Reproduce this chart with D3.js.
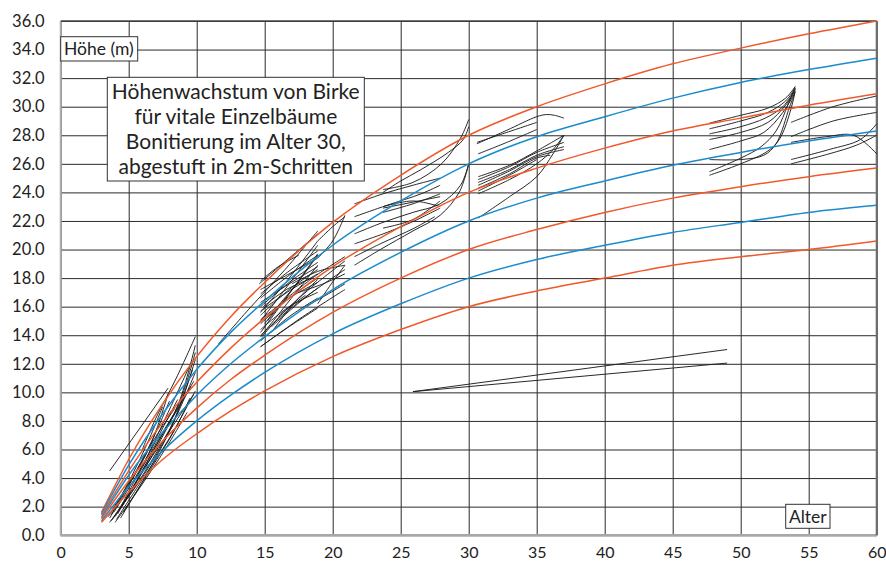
<!DOCTYPE html>
<html>
<head>
<meta charset="utf-8">
<script src="https://cdn.jsdelivr.net/npm/d3@7/dist/d3.min.js"></script>
<style>
  body { margin: 0; background: #fff; }
  svg { display: block; }
  text { font-family: Lato, "Noto Sans", sans-serif; fill: #222; }
</style>
</head>
<body>
<svg id="chart" width="886" height="562"></svg>
<script>
// axis ticks
const ageTicks = [0, 5, 10, 15, 20, 25, 30, 35, 40, 45, 50, 55, 60];
const heightTicks = [0, 2, 4, 6, 8, 10, 12, 14, 16, 18, 20, 22, 24, 26, 28, 30, 32, 34, 36];

// site index curves (height at age 30 = 28 ... 16 m)
const curveAges = [3, 5, 7.5, 10, 12.5, 15, 20, 25, 30, 35, 40, 45, 50, 55, 60];
const siteIndex = [28, 26, 24, 22, 20, 18, 16];
const siteHeights = [
  [1.6, 5.3, 9.2, 12.5, 15.3, 17.7, 21.9, 25.2, 28.0, 30.0, 31.6, 33.0, 34.1, 35.1, 36.0],
  [1.5, 4.9, 8.5, 11.6, 14.2, 16.4, 20.3, 23.4, 26.0, 27.9, 29.3, 30.6, 31.7, 32.6, 33.4],
  [1.4, 4.5, 7.9, 10.7, 13.1, 15.2, 18.8, 21.6, 24.0, 25.7, 27.1, 28.3, 29.2, 30.1, 30.9],
  [1.25, 4.2, 7.2, 9.8, 12.0, 13.9, 17.2, 19.8, 22.0, 23.6, 24.8, 25.9, 26.8, 27.6, 28.3],
  [1.15, 3.8, 6.6, 8.9, 10.9, 12.6, 15.6, 18.0, 20.0, 21.4, 22.6, 23.6, 24.4, 25.1, 25.7],
  [1.0, 3.4, 5.9, 8.0, 9.8, 11.4, 14.1, 16.2, 18.0, 19.3, 20.3, 21.2, 21.9, 22.6, 23.1],
  [0.9, 3.0, 5.3, 7.1, 8.7, 10.1, 12.5, 14.4, 16.0, 17.1, 18.0, 18.9, 19.5, 20.0, 20.6]
];

// measured single trees, [age, height]
const youngTrees = [
  [[3.6, 0.9], [5, 2.7], [6.5, 4.8], [8, 7.3], [9.9, 11.4]],
  [[3.8, 1.1], [5.2, 3.0], [6.8, 5.4], [8.4, 8.2], [9.9, 12.3]],
  [[3.7, 1.0], [5.5, 3.6], [7.2, 6.4], [8.7, 9.3], [9.9, 13.3]],
  [[4.0, 1.3], [5.6, 3.8], [7.2, 6.6], [8.6, 8.9], [9.8, 10.8]],
  [[3.6, 1.2], [5.2, 3.8], [6.6, 6.3], [7.9, 9.9]],
  [[4.2, 1.5], [5.8, 4.2], [7.4, 6.9], [9.6, 10.4]],
  [[3.6, 4.5], [7.9, 10.3]],
  [[4.5, 2.0], [6.3, 4.9], [8.0, 7.3], [9.8, 9.9]],
  [[3.7, 1.4], [5.2, 4.1], [6.4, 6.5], [7.5, 9.0]],
  [[4.1, 1.1], [6.0, 3.9], [8.0, 6.8], [9.9, 10.1]],
  [[3.9, 1.6], [5.4, 3.9], [7.0, 6.6], [8.6, 9.5]],
  [[4.3, 1.8], [6.2, 5.2], [7.9, 8.6], [9.6, 12.1]],
  [[3.5, 1.3], [5.0, 3.5], [6.8, 6.6], [8.4, 8.9]],
  [[4.4, 1.2], [6.4, 4.4], [8.2, 7.7], [9.7, 11.6]],
  [[6.0, 6.0], [7.0, 8.2], [8.5, 11.0], [9.9, 13.9]],
  [[4.0, 0.9], [5.8, 3.3], [7.8, 6.2], [9.3, 8.6]],
  [[5.5, 3.9], [7.3, 6.9], [8.7, 9.2], [9.9, 12.8]],
  [[4.6, 1.6], [6.6, 4.6], [8.4, 7.4], [9.5, 9.6]],
  [[3.8, 1.8], [5.6, 4.6], [7.0, 7.2], [8.0, 9.4]]
];

const poleTrees = [
  [[11.6, 13.4], [14, 16.0], [16.5, 18.6], [18.9, 21.3]],
  [[14.6, 17.6], [16.8, 19.4], [18.9, 21.1]],
  [[14.7, 13.2], [16.8, 14.6], [18.9, 15.9]],
  [[14.7, 13.6], [16.8, 15.3], [18.9, 16.6]],
  [[14.7, 14.0], [16.8, 15.8], [18.9, 17.3]],
  [[14.7, 14.4], [16.8, 16.0], [18.9, 17.0]],
  [[14.7, 14.8], [16.8, 16.6], [18.9, 18.0]],
  [[14.7, 15.1], [16.8, 16.6], [18.9, 17.7]],
  [[14.7, 15.4], [16.8, 17.2], [18.9, 18.6]],
  [[14.7, 15.7], [16.8, 17.1], [18.9, 18.3]],
  [[14.7, 16.0], [16.8, 17.7], [18.9, 19.1]],
  [[14.7, 16.3], [16.8, 17.6], [18.9, 18.8]],
  [[14.7, 16.6], [16.8, 18.2], [18.9, 19.6]],
  [[14.7, 16.9], [16.8, 18.5], [18.9, 19.9]],
  [[14.7, 17.2], [16.8, 18.3], [18.9, 19.4]],
  [[14.7, 14.2], [16.8, 16.9], [18.9, 19.7]],
  [[14.7, 15.0], [16.8, 17.6], [18.9, 20.3]],
  [[14.7, 13.9], [16.8, 16.4], [18.9, 18.9]],
  [[14.7, 15.6], [16.8, 18.0], [18.9, 20.6]],
  [[15.2, 15.0], [17.2, 17.4], [18.9, 19.6]],
  [[15.5, 14.2], [17.2, 16.3], [18.9, 17.9]],
  [[14.9, 16.0], [16.6, 17.2], [18.5, 18.0]],
  [[14.8, 13.9], [16.4, 15.6], [18.0, 16.8]],
  [[15.0, 14.8], [16.2, 16.3], [17.5, 17.7]],
  [[14.7, 13.2], [17.8, 15.3], [20.9, 17.2]],
  [[15.5, 14.6], [18.2, 16.8], [20.9, 18.6]],
  [[16.0, 15.3], [18.5, 17.4], [20.9, 19.2]],
  [[16.5, 16.5], [18.8, 18.2], [20.9, 19.5]],
  [[17.0, 17.6], [19.0, 18.5], [20.9, 18.9]],
  [[17.5, 17.0], [19.3, 17.6], [20.9, 18.3]],
  [[18.0, 16.0], [19.5, 16.8], [20.9, 17.6]],
  [[18.9, 19.4], [20.0, 20.6], [20.9, 22.4]],
  [[18.9, 20.6], [20.0, 21.6], [20.9, 22.3]],
  [[18.9, 16.2], [19.9, 17.6], [20.9, 18.9]],
  [[14.7, 17.8], [16.0, 18.8], [17.5, 19.6]]
];

const middleTrees = [
  [[21.6, 23.2], [23.7, 23.9], [25.9, 24.5], [27.9, 25.0]],
  [[23.7, 24.2], [25.9, 24.7], [28, 26.0], [29.4, 27.8], [30, 29.1]],
  [[23.7, 24.0], [25, 24.8], [26.5, 25.6], [28.5, 26.8], [29.6, 27.7], [30, 28.6]],
  [[23.7, 23.0], [25.9, 23.4], [27.9, 23.0]],
  [[23.7, 22.9], [27.9, 23.7]],
  [[23.7, 22.6], [25.9, 23.2], [27.9, 23.9]],
  [[23.7, 21.5], [25.9, 22.1], [27.9, 23.4]],
  [[21.6, 21.1], [23.7, 21.9], [25.9, 22.6], [27.9, 23.2], [29.4, 24.5], [30, 26.0]],
  [[21.6, 20.4], [24, 21.2], [26, 22.0], [27.9, 22.9]],
  [[21.6, 18.9], [23.5, 20.0], [25.9, 21.3], [27.9, 22.4], [29.3, 24.0], [30, 26.0]],
  [[21.6, 22.3], [24, 23.1], [26.5, 23.9], [27.9, 24.5]],
  [[21.6, 19.5], [23.5, 20.4], [26, 21.5], [27.5, 22.3]],
  [[30.6, 27.4], [32.8, 28.35], [35, 29.3], [35.7, 29.45], [36.3, 29.4], [37, 29.2]],
  [[30.6, 27.5], [32.8, 28.2], [35, 28.9]],
  [[30.7, 26.7], [32.8, 27.5], [35, 28.4]],
  [[30.7, 25.1], [33, 25.9], [35, 26.9], [37, 28.0]],
  [[30.7, 24.9], [33, 25.8], [35, 26.8], [37, 27.5]],
  [[30.7, 24.7], [33, 25.6], [35, 26.6], [37, 27.2]],
  [[30.7, 24.5], [33, 25.5], [35, 26.5], [37, 27.0]],
  [[30.7, 24.3], [33, 25.3], [35, 26.4], [36, 26.6]],
  [[30.7, 24.1], [33, 25.2], [35, 26.3]],
  [[30.7, 23.9], [33, 24.9], [35, 26.0], [36.2, 27.0], [37, 28.0]],
  [[30.7, 22.2], [33, 23.7], [35, 25.1], [36.2, 26.7], [37, 28.0]]
];

const oldTrees = [
  [[47.7, 28.85], [50, 29.4], [52, 29.9], [53.3, 30.6], [54, 31.4]],
  [[47.7, 28.45], [50, 29.0], [52, 29.6], [53.3, 30.4], [54, 31.3]],
  [[47.7, 28.1], [50, 28.6], [51.8, 29.2], [53.1, 30.0], [54, 31.2]],
  [[47.7, 27.7], [50, 28.2], [52, 28.9], [53.3, 30.1], [54, 31.1]],
  [[47.7, 27.0], [50, 27.6], [51.7, 28.2], [53.1, 29.6], [54, 31.0]],
  [[47.7, 26.3], [50, 26.3], [51.7, 26.6], [52.6, 27.4], [53.6, 30.0], [54, 31.0]],
  [[47.7, 25.45], [50, 26.4], [51.5, 27.2], [52.6, 28.3], [53.5, 30.2], [54, 31.4]],
  [[47.7, 25.2], [50, 26.0], [52, 26.9], [52.9, 27.8], [53.9, 30.6], [54, 31.3]],
  [[53.7, 28.9], [56.8, 30.0], [60, 30.75]],
  [[53.7, 27.9], [56.8, 29.0], [60, 29.6]],
  [[53.7, 27.5], [56.3, 27.9], [58.3, 28.0], [60, 26.7]],
  [[53.7, 26.3], [56.5, 27.0], [58.8, 27.7], [60, 28.8]],
  [[53.7, 26.0], [56.5, 26.7], [58.5, 27.3], [60, 28.0]]
];

const suppressedTrees = [
  [[25.9, 10.05], [49, 13.0]],
  [[25.9, 10.05], [49, 12.05]]
];

const titleLines = ['Höhenwachstum von Birke', 'für vitale Einzelbäume', 'Bonitierung im Alter 30,', 'abgestuft in 2m-Schritten'];

const svg = d3.select('#chart');
const x = d3.scaleLinear().domain([0, 60]).range([60.7, 876.7]);
const y = d3.scaleLinear().domain([0, 36]).range([535.2, 21]);
const plotW = x(60) - x(0),
  plotH = y(0) - y(36);

// grid
const gGrid = svg.append('g').attr('class', 'grid');
gGrid
  .append('g')
  .attr('transform', 'translate(' + x(0) + ',0)')
  .call(d3.axisLeft(y).tickValues(heightTicks).tickSize(-plotW).tickFormat(''))
  .call(g => g.select('.domain').remove())
  .selectAll('line')
  .attr('stroke', '#2b2b2b')
  .attr('stroke-width', 1);
gGrid
  .append('g')
  .attr('transform', 'translate(0,' + y(0) + ')')
  .call(d3.axisBottom(x).tickValues(ageTicks).tickSize(-plotH).tickFormat(''))
  .call(g => g.select('.domain').remove())
  .selectAll('line')
  .attr('stroke', '#2b2b2b')
  .attr('stroke-width', 1);

// frame
svg.append('line').attr('x1', x(0)).attr('x2', x(0)).attr('y1', y(36)).attr('y2', y(0))
  .attr('stroke', '#b0b0b0').attr('stroke-width', 2);
svg.append('line').attr('x1', x(0)).attr('x2', x(60)).attr('y1', y(0)).attr('y2', y(0))
  .attr('stroke', '#a8a8a8').attr('stroke-width', 2.5);
svg.append('line').attr('x1', x(60)).attr('x2', x(60)).attr('y1', y(36)).attr('y2', y(0))
  .attr('stroke', '#6e6e6e').attr('stroke-width', 2);
svg.append('line').attr('x1', x(0)).attr('x2', x(60)).attr('y1', y(36)).attr('y2', y(36))
  .attr('stroke', '#444').attr('stroke-width', 1.5);

// tick labels
const yAxis = svg
  .append('g')
  .attr('transform', 'translate(' + x(0) + ',0)')
  .call(d3.axisLeft(y).tickValues(heightTicks).tickSize(0).tickPadding(16).tickFormat(d3.format('.1f')));
const xAxis = svg
  .append('g')
  .attr('transform', 'translate(0,' + y(0) + ')')
  .call(d3.axisBottom(x).tickValues(ageTicks).tickSize(0).tickPadding(11.5));
[yAxis, xAxis].forEach(a => {
  a.select('.domain').remove();
  a.attr('font-family', null).attr('font-size', null);
  a.selectAll('text').style('font-size', '16.5px').style('fill', '#222');
});
xAxis.selectAll('text').style('font-size', '16px');

// tree lines
const treeLine = d3
  .line()
  .x(d => x(d[0]))
  .y(d => y(d[1]))
  .curve(d3.curveCatmullRom.alpha(0.5));
const allTrees = [].concat(youngTrees, poleTrees, middleTrees, oldTrees, suppressedTrees);
svg
  .append('g')
  .selectAll('.tree_line')
  .data(allTrees)
  .enter()
  .append('path')
  .attr('class', 'tree_line')
  .attr('d', treeLine)
  .attr('fill', 'none')
  .attr('stroke', '#1e1e1e')
  .attr('stroke-width', 0.95);

// site index curves
const siteLine = d3
  .line()
  .x((d, i) => x(curveAges[i]))
  .y(d => y(d))
  .curve(d3.curveMonotoneX);
svg
  .append('g')
  .selectAll('.site_curve')
  .data(siteHeights)
  .enter()
  .append('path')
  .attr('class', (d, i) => 'site_curve site_' + siteIndex[i])
  .attr('d', siteLine)
  .attr('fill', 'none')
  .attr('stroke', (d, i) => (i % 2 ? '#1b8bcc' : '#f0592a'))
  .attr('stroke-width', 1.5);

// labels
function labelBox(x0, y0, w, h) {
  svg.append('rect').attr('x', x0).attr('y', y0).attr('width', w).attr('height', h)
    .attr('fill', '#fff').attr('stroke', '#333').attr('stroke-width', 1);
}
labelBox(x(0), 36.7, 77, 24.3);
svg.append('text').text('Höhe (m)').attr('x', 64).attr('y', 55).style('font-size', '17.5px');

labelBox(107.3, 77.3, 257, 103.7);
svg
  .append('g')
  .selectAll('text')
  .data(titleLines)
  .enter()
  .append('text')
  .text(d => d)
  .attr('x', 235.8)
  .attr('y', (d, i) => 98.5 + i * 25.3)
  .attr('text-anchor', 'middle')
  .style('font-size', '21px');

labelBox(785.7, 504.3, 44.3, 24);
svg.append('text').text('Alter').attr('x', 807.8).attr('y', 522.5).attr('text-anchor', 'middle').style('font-size', '17.5px');
</script>
</body>
</html>
